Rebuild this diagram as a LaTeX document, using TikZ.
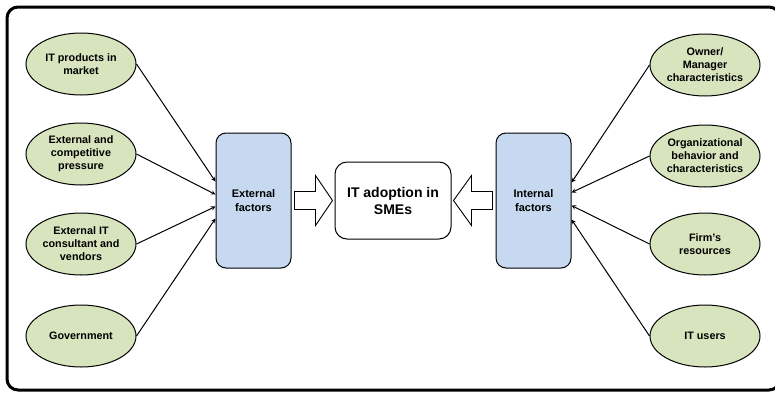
\documentclass[tikz,border=0pt]{standalone}
\usepackage{fontspec}
\setmainfont{Liberation Sans}
\usepackage{xcolor}
\usetikzlibrary{calc, shapes.geometric}

\definecolor{factorgreen}{HTML}{D7E4BD}
\definecolor{factorblue}{HTML}{C6D9F1}

\begin{document}
\begin{tikzpicture}[x=1pt, y=-1pt,
		factor/.style={ellipse, draw, line width=1pt, fill=factorgreen, minimum width=110pt, minimum height=62pt, inner sep=0pt, align=center, font=\fontsize{10.8}{13}\selectfont\bfseries},
		group/.style={rectangle, draw, line width=1pt, fill=factorblue, rounded corners=10pt, minimum width=75pt, minimum height=135pt, align=center, font=\fontsize{11}{13.5}\selectfont\bfseries},
		goal/.style={rectangle, draw, line width=1pt, fill=white, rounded corners=12pt, minimum width=116pt, minimum height=77pt, align=center, font=\fontsize{14}{17}\selectfont\bfseries},
		fatarrow/.style={draw, line width=0.9pt, fill=white, line join=miter}]
					\def\xL{81};
					\def\xR{705};
					
					\useasboundingbox (0,0) rectangle (775,394);
					\draw[line width=3pt, rounded corners=11pt] (7,7) rectangle (780,390);
					
					\begin{scope}
						\node[factor] (prod) at (\xL,64) {IT products in\\market};
						\node[factor] (comp) at (\xL,154) {External and\\competitive\\pressure};
						\node[factor] (cons) at (\xL,244) {External IT\\consultant and\\vendors};
						\node[factor] (gov) at (\xL,336) {Government};
					\end{scope}
					
					\begin{scope}
						\node[factor] (owner) at (\xR,65) {Owner/\\Manager\\characteristics};
						\node[factor] (org) at (\xR,156) {Organizational\\behavior and\\characteristics};
						\node[factor] (res) at (\xR,244) {Firm's\\resources};
						\node[factor] (users) at (\xR,336) {IT users};
					\end{scope}
					
					\node[group] (ext) at (253.5,200.5) {External\\factors};
					\node[group] (int) at (533.5,200.5) {Internal\\factors};
					\node[goal] (adopt) at (393,200.5) {IT adoption in\\SMEs};
					
					\begin{scope}[-stealth, line width=1pt]
						\draw (prod.east) -- ([yshift=19pt]ext.west);
						\draw (comp.east) -- ([yshift=6pt]ext.west);
						\draw (cons.east) -- ([yshift=-6pt]ext.west);
						\draw (gov.east) -- ([yshift=-18pt]ext.west);
						\draw (owner.west) -- ([yshift=18pt]int.east);
						\draw (org.west) -- ([yshift=8pt]int.east);
						\draw (res.west) -- ([yshift=-5pt]int.east);
						\draw (users.west) -- ([yshift=-19pt]int.east);
					\end{scope}
					
					\begin{scope}
						\draw[fatarrow] ($(ext.east)+(3,-9)$) -- ++(21,0) -- ++(0,-16) -- ($(adopt.west)+(-2,0)$) -- ($(ext.east)+(24,25)$) -- ++(0,-16) -- ++(-21,0) -- cycle;
						\draw[fatarrow] ($(int.west)+(-3,-9)$) -- ++(-21,0) -- ++(0,-16) -- ($(adopt.east)+(2,0)$) -- ($(int.west)+(-24,25)$) -- ++(0,-16) -- ++(21,0) -- cycle;
					\end{scope}
				\end{tikzpicture}
\end{document}
